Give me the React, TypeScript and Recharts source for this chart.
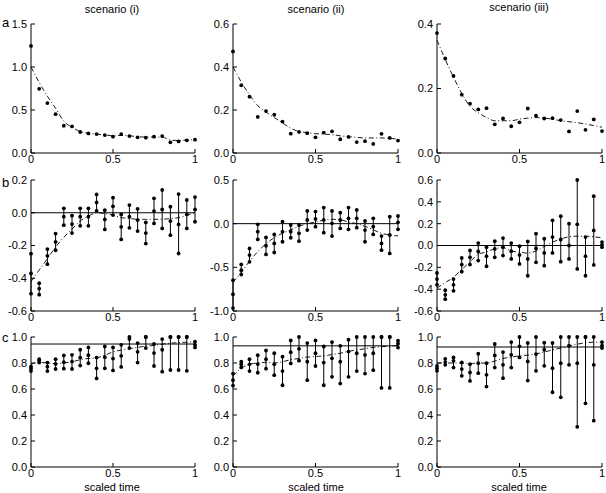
import {
  ComposedChart,
  Line,
  Scatter,
  XAxis,
  YAxis,
  ReferenceLine,
  ErrorBar,
} from "recharts";

const xs = [0, 0.05, 0.1, 0.15, 0.2, 0.25, 0.3, 0.35, 0.4, 0.45, 0.5, 0.55, 0.6, 0.65, 0.7, 0.75, 0.8, 0.85, 0.9, 0.95, 1];
const xTicks = [0, 0.5, 1];
const titles = ["scenario (i)", "scenario (ii)", "scenario (iii)"];
const rowLabels = ["a", "b", "c"];

// row a: observed points and fitted curve
const a1Obs = [1.245, 0.746, 0.58, 0.452, 0.317, 0.309, 0.244, 0.228, 0.22, 0.209, 0.19, 0.22, 0.197, 0.182, 0.178, 0.19, 0.197, 0.124, 0.135, 0.147, 0.155];
const a1Fit = [1.0, 0.82, 0.66, 0.52, 0.37, 0.3, 0.25, 0.23, 0.22, 0.21, 0.2, 0.205, 0.2, 0.19, 0.185, 0.185, 0.185, 0.15, 0.145, 0.15, 0.155];
const a2Obs = [0.472, 0.315, 0.262, 0.168, 0.195, 0.178, 0.146, 0.09, 0.098, 0.092, 0.073, 0.095, 0.101, 0.064, 0.075, 0.051, 0.055, 0.042, 0.089, 0.07, 0.058];
const a2Fit = [0.4, 0.33, 0.27, 0.22, 0.19, 0.165, 0.14, 0.115, 0.1, 0.095, 0.09, 0.088, 0.085, 0.08, 0.076, 0.073, 0.07, 0.07, 0.07, 0.068, 0.065];
const a3Obs = [0.372, 0.293, 0.239, 0.181, 0.153, 0.135, 0.139, 0.089, 0.107, 0.083, 0.095, 0.138, 0.116, 0.107, 0.108, 0.102, 0.067, 0.13, 0.072, 0.104, 0.068];
const a3Fit = [0.35, 0.29, 0.235, 0.185, 0.145, 0.125, 0.11, 0.1, 0.1, 0.1, 0.105, 0.108, 0.11, 0.108, 0.105, 0.1, 0.097, 0.094, 0.09, 0.085, 0.08];

// row b: upper / middle / lower values per time, fitted curve
const b1Hi = [-0.25, -0.43, -0.222, -0.127, 0.027, -0.018, 0.027, 0.027, 0.112, 0.016, 0.092, -0.01, 0.047, 0.024, -0.059, 0.088, 0.139, 0.037, 0.114, 0.078, 0.096];
const b1Mid = [-0.371, -0.463, -0.263, -0.178, -0.024, -0.069, -0.024, -0.024, 0.063, -0.041, 0.039, -0.086, -0.024, -0.045, -0.124, 0.01, 0.02, -0.051, -0.071, -0.01, 0.02];
const b1Lo = [-0.494, -0.5, -0.314, -0.229, -0.076, -0.124, -0.08, -0.08, 0.012, -0.102, -0.014, -0.163, -0.092, -0.112, -0.188, -0.065, -0.096, -0.137, -0.249, -0.096, -0.055];
const b1Fit = [-0.42, -0.35, -0.28, -0.21, -0.15, -0.1, -0.05, -0.02, 0.0, -0.005, -0.015, -0.03, -0.035, -0.04, -0.04, -0.04, -0.04, -0.035, -0.03, -0.015, 0.0];

const b2Hi = [-0.647, -0.467, -0.283, -0.008, -0.157, -0.123, 0.023, -0.015, -0.015, 0.146, 0.138, 0.184, 0.146, 0.126, 0.184, 0.157, 0.031, 0.061, -0.142, 0.08, 0.088];
const b2Mid = [-0.808, -0.533, -0.36, -0.092, -0.253, -0.226, -0.092, -0.092, -0.111, 0.042, 0.054, 0.042, 0.004, 0.042, 0.061, 0.061, -0.073, -0.034, -0.226, -0.13, 0.015];
const b2Lo = [-0.966, -0.582, -0.437, -0.18, -0.352, -0.33, -0.207, -0.161, -0.2, -0.073, -0.034, -0.103, -0.142, -0.054, -0.065, -0.046, -0.207, -0.123, -0.303, -0.341, -0.065];
const b2Fit = [-0.67, -0.56, -0.43, -0.32, -0.23, -0.16, -0.11, -0.07, -0.03, 0.0, 0.02, 0.04, 0.05, 0.045, 0.02, 0.0, -0.03, -0.07, -0.11, -0.13, -0.14];

const b3Hi = [-0.252, -0.409, -0.308, -0.114, -0.046, 0.022, -0.015, 0.04, 0.068, 0.022, -0.006, 0.037, 0.108, 0.062, 0.231, 0.268, 0.2, 0.6, 0.077, 0.452, 0.031];
const b3Mid = [-0.308, -0.452, -0.36, -0.175, -0.108, -0.055, -0.098, -0.031, -0.015, -0.052, -0.086, -0.123, -0.025, -0.068, 0.077, 0.055, 0.0, 0.194, -0.098, 0.138, 0.006];
const b3Lo = [-0.36, -0.492, -0.415, -0.24, -0.175, -0.138, -0.19, -0.108, -0.092, -0.123, -0.169, -0.277, -0.154, -0.185, -0.068, -0.148, -0.123, -0.215, -0.277, -0.178, -0.015];
const b3Fit = [-0.39, -0.34, -0.29, -0.22, -0.15, -0.08, -0.06, -0.03, -0.02, -0.05, -0.06, -0.07, -0.05, -0.01, 0.03, 0.06, 0.08, 0.085, 0.085, 0.08, 0.07];

// row c
const c1Hi = [0.772, 0.829, 0.803, 0.829, 0.858, 0.863, 0.902, 0.92, 0.842, 0.927, 0.92, 0.94, 1.0, 0.953, 1.0, 0.946, 0.984, 1.0, 1.0, 1.0, 0.964];
const c1Mid = [0.756, 0.819, 0.772, 0.793, 0.806, 0.811, 0.842, 0.86, 0.759, 0.845, 0.834, 0.855, 0.984, 0.886, 1.0, 0.876, 0.902, 1.0, 1.0, 1.0, 0.94];
const c1Lo = [0.738, 0.803, 0.738, 0.754, 0.756, 0.754, 0.78, 0.798, 0.681, 0.759, 0.743, 0.77, 0.915, 0.803, 0.915, 0.777, 0.733, 0.746, 0.746, 0.74, 0.92];
const c1Fit = [0.79, 0.805, 0.8, 0.795, 0.8, 0.81, 0.825, 0.835, 0.84, 0.86, 0.885, 0.9, 0.91, 0.92, 0.93, 0.935, 0.945, 0.952, 0.957, 0.96, 0.962];

const c2Hi = [0.719, 0.81, 0.829, 0.86, 0.896, 0.875, 0.849, 0.974, 1.0, 0.953, 0.974, 0.927, 0.961, 0.932, 0.979, 1.0, 1.0, 1.0, 1.0, 1.0, 0.971];
const c2Mid = [0.668, 0.79, 0.79, 0.792, 0.829, 0.79, 0.738, 0.883, 0.909, 0.81, 0.875, 0.803, 0.836, 0.81, 0.888, 0.875, 0.862, 0.875, 1.0, 1.0, 0.948];
const c2Lo = [0.626, 0.766, 0.738, 0.725, 0.756, 0.706, 0.629, 0.797, 0.818, 0.668, 0.777, 0.629, 0.694, 0.642, 0.694, 0.738, 0.719, 0.745, 0.608, 0.608, 0.919];
const c2Fit = [0.7, 0.76, 0.79, 0.8, 0.805, 0.8, 0.81, 0.825, 0.835, 0.845, 0.85, 0.855, 0.865, 0.875, 0.89, 0.9, 0.91, 0.92, 0.925, 0.93, 0.935];

const c3Hi = [0.778, 0.832, 0.843, 0.804, 0.791, 0.871, 0.799, 0.946, 0.884, 0.961, 1.0, 0.954, 1.0, 0.956, 0.954, 1.0, 1.0, 1.0, 1.0, 1.0, 0.961];
const c3Mid = [0.76, 0.807, 0.817, 0.753, 0.727, 0.799, 0.709, 0.858, 0.786, 0.863, 0.928, 0.812, 0.869, 0.902, 0.76, 0.799, 0.933, 0.799, 1.0, 0.786, 0.933];
const c3Lo = [0.74, 0.786, 0.765, 0.701, 0.662, 0.722, 0.619, 0.765, 0.683, 0.765, 0.843, 0.665, 0.74, 0.778, 0.575, 0.536, 0.786, 0.309, 0.49, 0.356, 0.915];
const c3Fit = [0.8, 0.8, 0.8, 0.8, 0.795, 0.8, 0.8, 0.815, 0.835, 0.845, 0.855, 0.86, 0.87, 0.885, 0.9, 0.915, 0.93, 0.945, 0.955, 0.96, 0.96];
const cLevels = [0.946, 0.932, 0.923];

const FONT = "'Liberation Sans', Arial, Helvetica, sans-serif";
const YW = 40;
const XH = 20;
const MT = 6;
const MR = 8;

const colLeft = [31, 233, 437];
const colWidth = [164, 165, 165];
const rowTop = [24, 180, 337];
const rowHeight = [129, 131, 130];

const fmtX = (v: number) => (v === 0.5 ? "0.5" : String(v));
const fmtY = (v: number) => v.toFixed(1);

const Dot = (props: any) =>
  props.cx == null ? null : <circle cx={props.cx} cy={props.cy} r={1.9} fill="#000" />;

type PanelProps = {
  row: number;
  col: number;
  yDomain: [number, number];
  yTicks: number[];
  fit: number[];
  obs?: number[];
  lo?: number[];
  mid?: number[];
  hi?: number[];
  level?: number;
};

function Panel({ row, col, yDomain, yTicks, fit, obs, lo, mid, hi, level }: PanelProps) {
  const w = colWidth[col];
  const h = rowHeight[row];
  const pts = (arr: number[]) => xs.map((x, i) => ({ x, y: arr[i] }));
  const bars =
    mid && lo && hi
      ? xs.map((x, i) => ({ x, y: mid[i], err: [mid[i] - lo[i], hi[i] - mid[i]] }))
      : null;
  return (
    <div style={{ position: "absolute", left: colLeft[col] - YW, top: rowTop[row] - MT }}>
      <ComposedChart
        width={YW + w + MR}
        height={MT + h + XH}
        margin={{ top: MT, right: MR, left: 0, bottom: 0 }}
      >
        <XAxis
          xAxisId="b"
          type="number"
          dataKey="x"
          domain={[0, 1]}
          ticks={xTicks}
          interval={0}
          tickFormatter={fmtX}
          height={XH}
          tickSize={-4}
          tickMargin={6}
          stroke="#000"
          tick={{ fontSize: 11, fill: "#000", fontFamily: FONT }}
        />
        <XAxis
          xAxisId="t"
          orientation="top"
          type="number"
          dataKey="x"
          domain={[0, 1]}
          ticks={xTicks}
          height={0}
          tickSize={-4}
          tick={false}
          stroke="#000"
        />
        <YAxis
          yAxisId="l"
          type="number"
          dataKey="y"
          domain={yDomain}
          ticks={yTicks}
          interval={0}
          tickFormatter={fmtY}
          width={YW}
          tickSize={-4}
          tickMargin={8}
          stroke="#000"
          tick={{ fontSize: 11, fill: "#000", fontFamily: FONT }}
        />
        <YAxis
          yAxisId="r"
          orientation="right"
          type="number"
          dataKey="y"
          domain={yDomain}
          ticks={yTicks}
          width={0}
          tickSize={-4}
          tick={false}
          stroke="#000"
        />
        {level !== undefined && (
          <ReferenceLine xAxisId="b" yAxisId="l" y={level} stroke="#000" strokeWidth={1} />
        )}
        <Line
          xAxisId="b"
          yAxisId="l"
          data={pts(fit)}
          dataKey="y"
          type="monotone"
          stroke="#000"
          strokeWidth={0.9}
          strokeDasharray="5 2.5 1 2.5"
          dot={false}
          activeDot={false}
          isAnimationActive={false}
        />
        {obs && (
          <Scatter
            xAxisId="b"
            yAxisId="l"
            data={pts(obs)}
            shape={Dot}
            isAnimationActive={false}
          />
        )}
        {bars && (
          <Scatter xAxisId="b" yAxisId="l" data={bars} shape={Dot} isAnimationActive={false}>
            <ErrorBar dataKey="err" direction="y" width={0} stroke="#000" strokeWidth={1} />
          </Scatter>
        )}
        {lo && (
          <Scatter xAxisId="b" yAxisId="l" data={pts(lo)} shape={Dot} isAnimationActive={false} />
        )}
        {hi && (
          <Scatter xAxisId="b" yAxisId="l" data={pts(hi)} shape={Dot} isAnimationActive={false} />
        )}
      </ComposedChart>
    </div>
  );
}

export default function App() {
  const titleX = [112, 316, 519];
  const titleY = [13, 13, 11];
  const labelY = [27, 187, 342];
  const cTicks = [0, 0.2, 0.4, 0.6, 0.8, 1.0];
  return (
    <div
      style={{
        position: "absolute",
        left: 0,
        top: 0,
        width: 606,
        height: 493,
        background: "#fff",
        fontFamily: FONT,
      }}
    >
      <Panel row={0} col={0} yDomain={[0, 1.5]} yTicks={[0, 0.5, 1.0, 1.5]} obs={a1Obs} fit={a1Fit} />
      <Panel row={0} col={1} yDomain={[0, 0.6]} yTicks={[0, 0.2, 0.4, 0.6]} obs={a2Obs} fit={a2Fit} />
      <Panel row={0} col={2} yDomain={[0, 0.4]} yTicks={[0, 0.2, 0.4]} obs={a3Obs} fit={a3Fit} />

      <Panel row={1} col={0} yDomain={[-0.6, 0.2]} yTicks={[-0.6, -0.4, -0.2, 0, 0.2]}
        lo={b1Lo} mid={b1Mid} hi={b1Hi} fit={b1Fit} level={0} />
      <Panel row={1} col={1} yDomain={[-1.0, 0.5]} yTicks={[-1.0, -0.5, 0, 0.5]}
        lo={b2Lo} mid={b2Mid} hi={b2Hi} fit={b2Fit} level={0} />
      <Panel row={1} col={2} yDomain={[-0.6, 0.6]} yTicks={[-0.6, -0.4, -0.2, 0, 0.2, 0.4, 0.6]}
        lo={b3Lo} mid={b3Mid} hi={b3Hi} fit={b3Fit} level={0} />

      <Panel row={2} col={0} yDomain={[0, 1]} yTicks={cTicks}
        lo={c1Lo} mid={c1Mid} hi={c1Hi} fit={c1Fit} level={cLevels[0]} />
      <Panel row={2} col={1} yDomain={[0, 1]} yTicks={cTicks}
        lo={c2Lo} mid={c2Mid} hi={c2Hi} fit={c2Fit} level={cLevels[1]} />
      <Panel row={2} col={2} yDomain={[0, 1]} yTicks={cTicks}
        lo={c3Lo} mid={c3Mid} hi={c3Hi} fit={c3Fit} level={cLevels[2]} />

      <svg width={606} height={493} style={{ position: "absolute", left: 0, top: 0, pointerEvents: "none" }}>
        {titles.map((t, i) => (
          <text key={t} x={titleX[i]} y={titleY[i]} textAnchor="middle" fontSize={11} fontFamily={FONT} fill="#000">
            {t}
          </text>
        ))}
        {titleX.map((x, i) => (
          <text key={i} x={x} y={491} textAnchor="middle" fontSize={11} fontFamily={FONT} fill="#000">
            scaled time
          </text>
        ))}
        {rowLabels.map((l, i) => (
          <text key={l} x={2} y={labelY[i]} fontSize={13} fontFamily={FONT} fill="#000">
            {l}
          </text>
        ))}
      </svg>
    </div>
  );
}
